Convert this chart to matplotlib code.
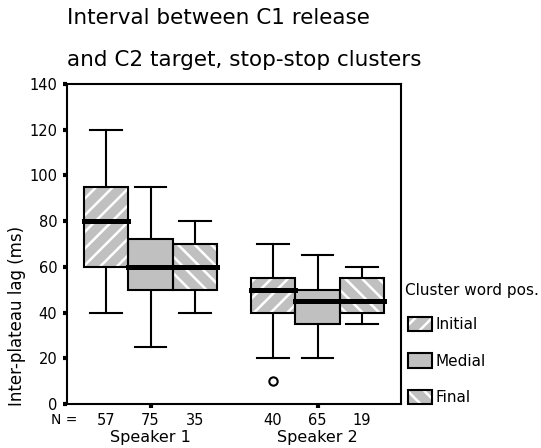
import matplotlib
matplotlib.use("Agg")
import matplotlib.pyplot as plt
from matplotlib.patches import Patch, PathPatch
from matplotlib.transforms import blended_transform_factory

plt.rcParams['hatch.linewidth'] = 1.8
plt.rcParams['font.family'] = ['DejaVu Sans']

speakers = ["Speaker 1", "Speaker 2"]
positions_lbl = ["Initial", "Medial", "Final"]
hatches = ["//", "", "\\\\"]
# per speaker, per position: [whislo, q1, med, q3, whishi]
stats_s1 = [[40, 60, 80, 95, 120], [25, 50, 60, 72, 95], [40, 50, 60, 70, 80]]
stats_s2 = [[20, 40, 50, 55, 70], [20, 35, 45, 50, 65], [35, 40, 45, 55, 60]]
fliers_s1 = [[], [], []]
fliers_s2 = [[10], [], []]
counts_s1 = [57, 75, 35]
counts_s2 = [40, 65, 19]
yticks = [0, 20, 40, 60, 80, 100, 120, 140]

fig = plt.figure(figsize=(5.41, 4.48), dpi=100)
ax = fig.add_axes([67/541, 1-404/448, 334/541, 320/448])

w = 0.267
offsets = [-w, 0, w]
group_x = [1, 2]
all_stats = [stats_s1, stats_s2]
all_fliers = [fliers_s1, fliers_s2]
all_counts = [counts_s1, counts_s2]

gray = '#c0c0c0'
for gi, gx in enumerate(group_x):
    for pi in range(3):
        lo, q1, med, q3, hi = all_stats[gi][pi]
        st = dict(whislo=lo, q1=q1, med=med, q3=q3, whishi=hi, fliers=all_fliers[gi][pi])
        res = ax.bxp([st], positions=[gx + offsets[pi]], widths=w, capwidths=0.19,
                     patch_artist=True, showfliers=True,
                     boxprops=dict(facecolor=gray, edgecolor='white', linewidth=0, hatch=hatches[pi]),
                     whiskerprops=dict(color='black', linewidth=1.5),
                     capprops=dict(color='black', linewidth=1.5),
                     medianprops=dict(color='black', linewidth=3.6, solid_capstyle='projecting'),
                     flierprops=dict(marker='o', markerfacecolor='none', markeredgecolor='black',
                                     markersize=6, markeredgewidth=1.5))
        for b in res['boxes']:
            b.set_zorder(2)
            outline = PathPatch(b.get_path(), fill=False, edgecolor='black', linewidth=1.5, zorder=2.5)
            ax.add_patch(outline)
        for m in res['medians']:
            m.set_zorder(3)
        for l in res['whiskers'] + res['caps']:
            l.set_zorder(1)

ax.set_xlim(0.5, 2.5)
ax.set_ylim(0, 140)
ax.set_yticks(yticks)
ax.set_yticklabels([str(t) for t in yticks], fontsize=10.5)
ax.set_xticks(group_x)
ax.set_xticklabels(["", ""])
ax.tick_params(axis='y', direction='out', length=3, width=3, pad=4)
ax.tick_params(axis='x', direction='out', length=3, width=3)
for sp in ax.spines.values():
    sp.set_linewidth(1.5)

ax.set_ylabel("Inter-plateau lag (ms)", fontsize=12)
ax.yaxis.set_label_coords(-41/334, 88/320)

tr = blended_transform_factory(ax.transData, ax.transAxes)
ax.text(0.5 + 10/167, -0.05, "N =", transform=tr, ha='right', va='center', fontsize=10)
for gi, gx in enumerate(group_x):
    for pi in range(3):
        ax.text(gx + offsets[pi], -0.05, str(all_counts[gi][pi]), transform=tr,
                ha='center', va='center', fontsize=10.5)
    ax.text(gx, -0.105, speakers[gi], transform=tr, ha='center', va='center', fontsize=11.5)

fig.text(67/541, 1-24/448, "Interval between C1 release", fontsize=15.5, ha='left', va='baseline')
fig.text(67/541, 1-66/448, "and C2 target, stop-stop clusters", fontsize=15.5, ha='left', va='baseline')

handles = []
for pi in range(3):
    p1 = Patch(facecolor=gray, edgecolor='white', linewidth=0, hatch=hatches[pi])
    p2 = Patch(facecolor='none', edgecolor='black', linewidth=1.5)
    handles.append((p1, p2))
fig.text(405/541, 1-290/448, "Cluster word pos.", fontsize=11, ha='left', va='center')
fig.legend(handles, positions_lbl, loc='upper left', bbox_to_anchor=(408/541, 1-317/448),
           frameon=False, fontsize=11, handlelength=1.6, handleheight=1.05,
           labelspacing=1.38, handletextpad=0.2, borderpad=0, borderaxespad=0)

fig.savefig("out.png", dpi=100)
